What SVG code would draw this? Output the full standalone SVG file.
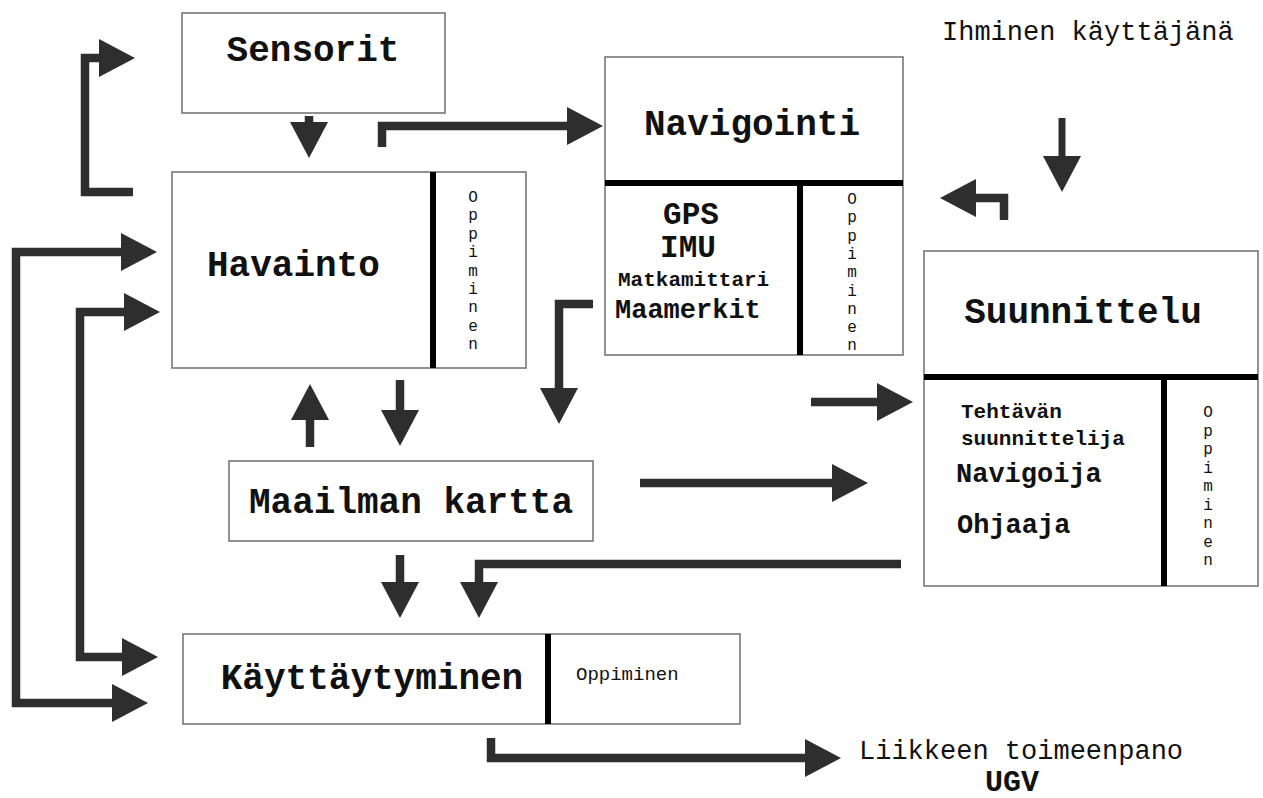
<svg xmlns="http://www.w3.org/2000/svg" width="1263" height="798" viewBox="0 0 1263 798">
<style>
.box{fill:#fff;stroke:#777;stroke-width:1.6}
.div{stroke:#000;stroke-width:6;fill:none}
.con{fill:none;stroke:#2e2e2e;stroke-width:8.5;stroke-linejoin:miter}
.t{font-family:"Courier New","Liberation Mono",monospace;fill:#111}
.big{font-size:36px;font-weight:bold}
.mid{font-size:27px}
.midb{font-size:27px;font-weight:bold}
.sm{font-size:21px}
.smb{font-size:21px;font-weight:bold}
.v{font-size:16px;text-anchor:middle}
</style>
<defs>
<marker id="ah" viewBox="0 0 36 38" refX="0" refY="19" markerWidth="36" markerHeight="38" markerUnits="userSpaceOnUse" orient="auto-start-reverse">
<path d="M0,0 L36,19 L0,38 z" fill="#2e2e2e"/>
</marker>
</defs>
<rect width="1263" height="798" fill="#fff"/>

<g id="sensorit">
<rect class="box" x="182" y="13" width="263" height="100"/>
<text class="t big" x="313" y="61" text-anchor="middle">Sensorit</text>
</g>

<g id="havainto">
<rect class="box" x="172" y="172" width="354" height="196"/>
<line class="div" x1="433" y1="172" x2="433" y2="368"/>
<text class="t big" x="207" y="276">Havainto</text>
<text class="t v" x="473" y="202"><tspan x="473">O</tspan><tspan x="473" dy="18.4">p</tspan><tspan x="473" dy="18.4">p</tspan><tspan x="473" dy="18.4">i</tspan><tspan x="473" dy="18.4">m</tspan><tspan x="473" dy="18.4">i</tspan><tspan x="473" dy="18.4">n</tspan><tspan x="473" dy="18.4">e</tspan><tspan x="473" dy="18.4">n</tspan></text>
</g>

<g id="navigointi">
<rect class="box" x="605" y="57" width="298" height="298"/>
<line class="div" x1="605" y1="183" x2="903" y2="183"/>
<line class="div" x1="800" y1="183" x2="800" y2="355"/>
<text class="t big" x="752" y="135" text-anchor="middle">Navigointi</text>
<text class="t" x="691" y="224" font-size="31" font-weight="bold" text-anchor="middle">GPS</text>
<text class="t" x="688" y="257" font-size="31" font-weight="bold" text-anchor="middle">IMU</text>
<text class="t smb" x="618" y="286">Matkamittari</text>
<text class="t midb" x="615" y="318">Maamerkit</text>
<text class="t v" x="852" y="204"><tspan x="852">O</tspan><tspan x="852" dy="18.3">p</tspan><tspan x="852" dy="18.3">p</tspan><tspan x="852" dy="18.3">i</tspan><tspan x="852" dy="18.3">m</tspan><tspan x="852" dy="18.3">i</tspan><tspan x="852" dy="18.3">n</tspan><tspan x="852" dy="18.3">e</tspan><tspan x="852" dy="18.3">n</tspan></text>
</g>

<g id="suunnittelu">
<rect class="box" x="924" y="251" width="334" height="335"/>
<line class="div" x1="924" y1="377" x2="1258" y2="377"/>
<line class="div" x1="1164" y1="377" x2="1164" y2="586"/>
<text class="t big" x="1083" y="323" text-anchor="middle">Suunnittelu</text>
<text class="t smb" x="961" y="418">Tehtävän</text>
<text class="t smb" x="961" y="445">suunnittelija</text>
<text class="t midb" x="956" y="482">Navigoija</text>
<text class="t midb" x="957" y="533">Ohjaaja</text>
<text class="t v" x="1208" y="417"><tspan x="1208">O</tspan><tspan x="1208" dy="18.5">p</tspan><tspan x="1208" dy="18.5">p</tspan><tspan x="1208" dy="18.5">i</tspan><tspan x="1208" dy="18.5">m</tspan><tspan x="1208" dy="18.5">i</tspan><tspan x="1208" dy="18.5">n</tspan><tspan x="1208" dy="18.5">e</tspan><tspan x="1208" dy="18.5">n</tspan></text>
</g>

<g id="maailman-kartta">
<rect class="box" x="229" y="461" width="364" height="80"/>
<text class="t big" x="411" y="513" text-anchor="middle">Maailman kartta</text>
</g>

<g id="kayttaytyminen">
<rect class="box" x="183" y="634" width="557" height="90"/>
<line class="div" x1="548" y1="634" x2="548" y2="724"/>
<text class="t big" x="372" y="689" text-anchor="middle">Käyttäytyminen</text>
<text class="t" x="576" y="680" font-size="19">Oppiminen</text>
</g>

<g id="ihminen">
<text class="t mid" x="942" y="40">Ihminen käyttäjänä</text>
</g>

<g id="ugv">
<text class="t mid" x="859" y="759">Liikkeen toimeenpano</text>
<text class="t" x="1012" y="791" font-size="30" font-weight="bold" text-anchor="middle">UGV</text>
</g>

<g id="connectors">
<path class="con" d="M133,192 H85 V58 H99" marker-end="url(#ah)"/>
<path class="con" d="M309,116 V122" marker-end="url(#ah)"/>
<path class="con" d="M382,147 V126 H567" marker-end="url(#ah)"/>
<path class="con" d="M121,252 H16 V703 H112" marker-start="url(#ah)" marker-end="url(#ah)"/>
<path class="con" d="M124,312 H80 V657 H122" marker-start="url(#ah)" marker-end="url(#ah)"/>
<path class="con" d="M310,447 V420" marker-end="url(#ah)"/>
<path class="con" d="M400,380 V410" marker-end="url(#ah)"/>
<path class="con" d="M593,304 H559 V388" marker-end="url(#ah)"/>
<path class="con" d="M400,555 V582" marker-end="url(#ah)"/>
<path class="con" d="M901,564 H479 V582" marker-end="url(#ah)"/>
<path class="con" d="M640,483 H832" marker-end="url(#ah)"/>
<path class="con" d="M811,402 H877" marker-end="url(#ah)"/>
<path class="con" d="M1004,220 V198 H976" marker-end="url(#ah)"/>
<path class="con" d="M1062,118 V156" marker-end="url(#ah)" style="stroke-width:7"/>
<path class="con" d="M491,738 V758 H805" marker-end="url(#ah)"/>
</g>
</svg>
